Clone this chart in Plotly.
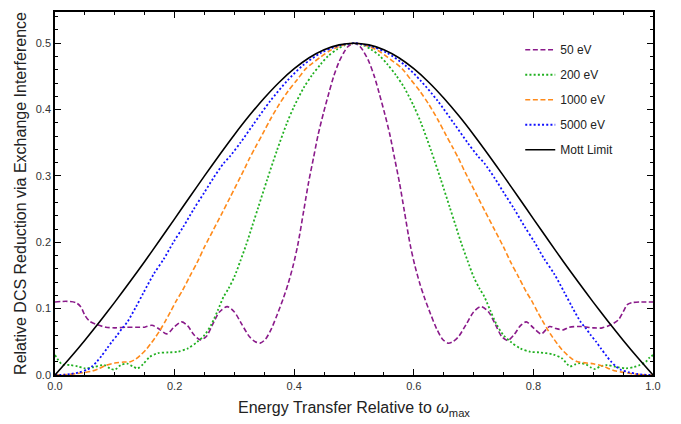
import plotly.graph_objects as go

# ---- 50 eV ----
x_50 = [0.000, 0.020, 0.035, 0.043, 0.050, 0.058, 0.070, 0.085, 0.100, 0.120,
        0.140, 0.150, 0.162, 0.173, 0.187, 0.200, 0.212, 0.222, 0.232, 0.243,
        0.253, 0.263, 0.275, 0.288, 0.300, 0.312, 0.325, 0.335, 0.343, 0.352,
        0.362, 0.372, 0.382, 0.390, 0.398, 0.406, 0.416, 0.424, 0.432, 0.440,
        0.449, 0.458, 0.466, 0.475, 0.483, 0.490, 0.500,
        0.510, 0.517, 0.525, 0.534, 0.542, 0.551, 0.560, 0.568, 0.576, 0.584,
        0.594, 0.602, 0.610, 0.618, 0.628, 0.638, 0.648, 0.657, 0.665, 0.675,
        0.688, 0.700, 0.712, 0.725, 0.737, 0.747, 0.757, 0.768, 0.778, 0.788,
        0.800, 0.813, 0.827, 0.838, 0.850, 0.860, 0.880, 0.900, 0.915, 0.930,
        0.942, 0.950, 0.957, 0.965, 0.980, 1.000]
y_50 = [0.110, 0.111, 0.109, 0.103, 0.090, 0.081, 0.076, 0.072, 0.071, 0.072,
        0.072, 0.072, 0.075, 0.070, 0.062, 0.073, 0.080, 0.074, 0.061, 0.053,
        0.058, 0.075, 0.095, 0.103, 0.095, 0.077, 0.058, 0.050, 0.048, 0.054,
        0.070, 0.092, 0.116, 0.138, 0.164, 0.196, 0.248, 0.290, 0.326, 0.362,
        0.395, 0.425, 0.450, 0.472, 0.486, 0.495, 0.500,
        0.495, 0.486, 0.472, 0.450, 0.425, 0.395, 0.362, 0.326, 0.290, 0.248,
        0.196, 0.164, 0.138, 0.116, 0.092, 0.070, 0.054, 0.048, 0.050, 0.058,
        0.077, 0.095, 0.103, 0.095, 0.075, 0.058, 0.052, 0.061, 0.074, 0.080,
        0.071, 0.062, 0.073, 0.070, 0.068, 0.072, 0.073, 0.071, 0.071, 0.076,
        0.083, 0.095, 0.106, 0.109, 0.110, 0.110]

# ---- 200 eV ----
x_200 = [0.000, 0.006, 0.012, 0.025, 0.038, 0.050, 0.065, 0.082, 0.092, 0.100,
         0.110, 0.121, 0.130, 0.138, 0.147, 0.158, 0.172, 0.190, 0.205, 0.222,
         0.238, 0.250, 0.262, 0.272, 0.282, 0.290, 0.300, 0.310, 0.320, 0.330,
         0.340, 0.355, 0.371, 0.388, 0.400, 0.416, 0.430, 0.444, 0.457, 0.472,
         0.485, 0.500,
         0.515, 0.528, 0.543, 0.556, 0.570, 0.584, 0.600, 0.612, 0.629, 0.645,
         0.660, 0.670, 0.680, 0.690, 0.700, 0.710, 0.718, 0.728, 0.738, 0.750,
         0.762, 0.778, 0.795, 0.810, 0.833, 0.848, 0.861, 0.870, 0.878, 0.888,
         0.897, 0.903, 0.912, 0.923, 0.939, 0.955, 0.968, 0.978, 0.988, 0.994,
         1.000]
y_200 = [0.030, 0.022, 0.016, 0.015, 0.013, 0.010, 0.012, 0.015, 0.010, 0.008,
         0.015, 0.017, 0.013, 0.010, 0.016, 0.027, 0.033, 0.034, 0.035, 0.040,
         0.050, 0.060, 0.077, 0.097, 0.118, 0.130, 0.148, 0.172, 0.197, 0.225,
         0.253, 0.295, 0.338, 0.380, 0.405, 0.433, 0.452, 0.468, 0.481, 0.491,
         0.497, 0.500,
         0.497, 0.491, 0.481, 0.468, 0.452, 0.433, 0.405, 0.380, 0.338, 0.295,
         0.253, 0.225, 0.197, 0.172, 0.148, 0.130, 0.118, 0.097, 0.077, 0.060,
         0.050, 0.040, 0.035, 0.034, 0.031, 0.025, 0.013, 0.016, 0.018, 0.016,
         0.011, 0.009, 0.013, 0.015, 0.012, 0.010, 0.012, 0.015, 0.020, 0.026,
         0.030]

# ---- 1000 eV ----
x_1000 = [0.000, 0.020, 0.035, 0.050, 0.062, 0.072, 0.085, 0.100, 0.115, 0.126,
          0.135, 0.143, 0.152, 0.160, 0.168, 0.176, 0.185, 0.193, 0.203, 0.213,
          0.225, 0.238, 0.250, 0.265, 0.280, 0.293, 0.316, 0.325, 0.335, 0.347,
          0.360, 0.375, 0.390, 0.405, 0.420, 0.444, 0.460, 0.472, 0.485, 0.500,
          0.515, 0.528, 0.540, 0.556, 0.580, 0.595, 0.610, 0.625, 0.640, 0.653,
          0.665, 0.675, 0.684, 0.707, 0.720, 0.735, 0.750, 0.762, 0.775, 0.787,
          0.797, 0.807, 0.815, 0.824, 0.832, 0.840, 0.848, 0.857, 0.865, 0.874,
          0.889, 0.900, 0.917, 0.928, 0.938, 0.950, 0.965, 0.980, 1.000]
y_1000 = [0.000, 0.0005, 0.002, 0.004, 0.006, 0.009, 0.0145, 0.018, 0.0195, 0.020,
          0.024, 0.030, 0.038, 0.047, 0.057, 0.068, 0.082, 0.095, 0.112, 0.127,
          0.148, 0.170, 0.193, 0.219, 0.245, 0.268, 0.309, 0.326, 0.343, 0.363,
          0.385, 0.408, 0.428, 0.445, 0.462, 0.479, 0.489, 0.494, 0.498, 0.500,
          0.498, 0.494, 0.489, 0.479, 0.462, 0.445, 0.428, 0.408, 0.385, 0.363,
          0.343, 0.326, 0.309, 0.268, 0.245, 0.219, 0.193, 0.170, 0.148, 0.127,
          0.112, 0.095, 0.082, 0.068, 0.057, 0.047, 0.038, 0.030, 0.024, 0.020,
          0.018, 0.017, 0.013, 0.009, 0.006, 0.004, 0.002, 0.0005, 0.000]

# ---- 5000 eV ----
x_5000 = [0.000, 0.015, 0.026, 0.040, 0.054, 0.062, 0.070, 0.078, 0.087, 0.095,
          0.104, 0.112, 0.121, 0.135, 0.148, 0.165, 0.182, 0.198, 0.215, 0.232,
          0.249, 0.265, 0.282, 0.293, 0.310, 0.332, 0.360, 0.388, 0.415, 0.444,
          0.470, 0.500,
          0.530, 0.556, 0.585, 0.612, 0.640, 0.668, 0.690, 0.707, 0.718, 0.735,
          0.751, 0.768, 0.785, 0.802, 0.818, 0.835, 0.852, 0.865, 0.879, 0.888,
          0.896, 0.905, 0.913, 0.922, 0.930, 0.938, 0.946, 0.960, 0.974, 0.985,
          1.000]
y_5000 = [0.000, 0.0005, 0.0015, 0.004, 0.008, 0.013, 0.020, 0.029, 0.040, 0.050,
          0.060, 0.070, 0.080, 0.102, 0.124, 0.152, 0.175, 0.200, 0.224, 0.250,
          0.274, 0.297, 0.319, 0.330, 0.350, 0.378, 0.413, 0.443, 0.467, 0.485,
          0.495, 0.500,
          0.495, 0.485, 0.467, 0.443, 0.413, 0.378, 0.350, 0.330, 0.319, 0.297,
          0.274, 0.250, 0.224, 0.200, 0.175, 0.152, 0.124, 0.102, 0.080, 0.070,
          0.060, 0.050, 0.040, 0.029, 0.020, 0.013, 0.008, 0.004, 0.0015, 0.0005,
          0.000]

# ---- Mott limit ----
x_mott = [0.000, 0.025, 0.050, 0.075, 0.100, 0.125, 0.150, 0.175, 0.200, 0.225,
          0.250, 0.275, 0.300, 0.325, 0.350, 0.375, 0.400, 0.425, 0.450, 0.475,
          0.500, 0.525, 0.550, 0.575, 0.600, 0.625, 0.650, 0.675, 0.700, 0.725,
          0.750, 0.775, 0.800, 0.825, 0.850, 0.875, 0.900, 0.925, 0.950, 0.975,
          1.000]
y_mott = [0.000, 0.0256, 0.0525, 0.0806, 0.1098, 0.140, 0.1711, 0.2030, 0.2353, 0.2678,
          0.300, 0.3316, 0.3621, 0.3909, 0.4174, 0.4412, 0.4615, 0.478, 0.4901, 0.4975,
          0.500, 0.4975, 0.4901, 0.478, 0.4615, 0.4412, 0.4174, 0.3909, 0.3621, 0.3316,
          0.300, 0.2678, 0.2353, 0.2030, 0.1711, 0.140, 0.1098, 0.0806, 0.0525, 0.0256,
          0.000]

series = [
    ("50 eV", x_50, y_50, "#8a1a8a", "5px,2.6px", 1.6),
    ("200 eV", x_200, y_200, "#20b020", "2px,2.2px", 1.8),
    ("1000 eV", x_1000, y_1000, "#ff8a1a", "5px,2.6px", 1.6),
    ("5000 eV", x_5000, y_5000, "#1010ff", "2px,2.2px", 1.8),
    ("Mott Limit", x_mott, y_mott, "#000000", "solid", 1.6),
]

FONT = "Liberation Sans, Arial, sans-serif"

fig = go.Figure()
for name, xs, ys, color, dash, w in series:
    fig.add_trace(go.Scatter(
        x=xs, y=ys, mode="lines", name=name, legendgroup=name,
        line=dict(color=color, dash=dash, width=w, shape="spline", smoothing=0.8),
    ))

axis_common = dict(
    showgrid=False, zeroline=False,
    showline=True, linecolor="black", linewidth=1.6, mirror="allticks",
    ticks="inside", ticklen=6, tickwidth=1.2, tickcolor="black",
    tickfont=dict(family=FONT, size=11, color="#333333"),
)

fig.update_xaxes(
    range=[0, 1], tickvals=[0, 0.2, 0.4, 0.6, 0.8, 1.0],
    ticktext=["0.0", "0.2", "0.4", "0.6", "0.8", "1.0"],
    minor=dict(dtick=0.05, ticks="inside", ticklen=3.5, tickwidth=1, tickcolor="black"),
    title=dict(text="Energy Transfer Relative to <i>ω</i><sub>max</sub>",
               font=dict(family=FONT, size=16, color="#222222"),
               standoff=11),
    **axis_common,
)
fig.update_yaxes(
    range=[0, 0.547], tickvals=[0, 0.1, 0.2, 0.3, 0.4, 0.5],
    ticktext=["0.0", "0.1", "0.2", "0.3", "0.4", "0.5"],
    minor=dict(dtick=0.02, ticks="inside", ticklen=3.5, tickwidth=1, tickcolor="black"),
    title=dict(text="Relative DCS Reduction via Exchange Interference",
               font=dict(family=FONT, size=16, color="#222222"),
               standoff=5),
    **axis_common,
)

fig.update_layout(
    width=681, height=424,
    margin=dict(l=55, r=28, t=10, b=47),
    paper_bgcolor="white", plot_bgcolor="white",
    showlegend=True,
    legend=dict(
        x=0.778, y=0.936, xanchor="left", yanchor="top",
        bgcolor="rgba(255,255,255,0)", borderwidth=0,
        traceorder="grouped", tracegroupgap=6,
        font=dict(family=FONT, size=12, color="#222222"),
    ),
)

fig.write_html("out.html")
